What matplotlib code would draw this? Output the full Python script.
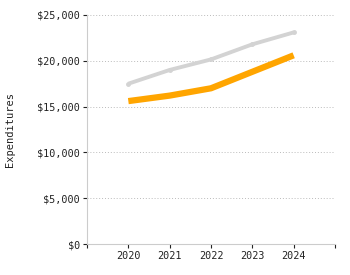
import matplotlib
matplotlib.use("Agg")
import matplotlib.pyplot as plt
from matplotlib.ticker import FuncFormatter

years = [2020, 2021, 2022, 2023, 2024]
benchmark = [17500, 19000, 20150, 21800, 23100]
expenditures = [15600, 16200, 17000, 18800, 20600]
y_ticks = [0, 5000, 10000, 15000, 20000, 25000]

plt.rcParams['font.family'] = ['DejaVu Sans Mono']
fig = plt.figure(figsize=(3.5, 2.75), dpi=100)
ax = fig.add_axes([87 / 350, 1 - 244 / 275, 248 / 350, 229 / 275])

ax.plot(years, benchmark, color='#d3d3d3', lw=2.8, marker='o', ms=2.5, solid_capstyle='butt')
ax.plot(years, expenditures, color='#ffa500', lw=4.5, solid_capstyle='butt')

ax.set_xlim(2019, 2025)
ax.set_ylim(0, 25000)
ax.set_xticks(range(2019, 2026))
ax.set_xticklabels([''] + [str(y) for y in years] + [''])
ax.set_yticks(y_ticks)
ax.yaxis.set_major_formatter(FuncFormatter(lambda v, p: '${:,.0f}'.format(v)))
ax.grid(axis='y', linestyle=(0, (1, 2)), color='#bbbbbb', lw=0.7)
ax.set_axisbelow(True)

for s in ['top', 'right']:
    ax.spines[s].set_visible(False)
for s in ['left', 'bottom']:
    ax.spines[s].set_color('#cccccc')
ax.tick_params(labelsize=7.3, colors='#222222', length=3, width=0.8, pad=2)
ax.tick_params(axis='y', colors='#222222')
ax.set_ylabel('Expenditures', fontsize=7.5, color='#222222')
ax.yaxis.set_label_coords(-(87 - 15) / 248, 0.5)

fig.savefig('out.png', dpi=100)
